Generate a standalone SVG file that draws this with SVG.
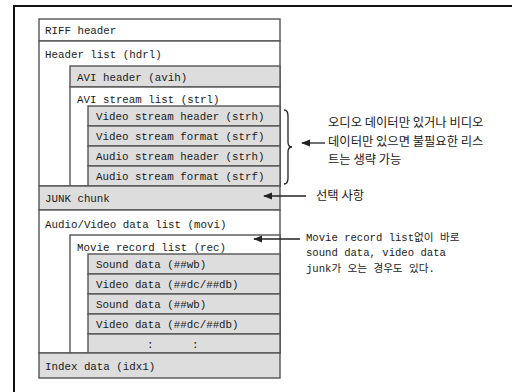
<svg xmlns="http://www.w3.org/2000/svg" width="512" height="392" viewBox="0 0 512 392">
<defs>
<style>
.w{fill:#ffffff;stroke:#555555;stroke-width:1.4}
.g{fill:#dddddd;stroke:#555555;stroke-width:1.4}
.t{font-family:"Liberation Mono","DejaVu Sans Mono",monospace;font-size:10.8px;fill:#1a1a1a}
.k{font-family:"Noto Sans CJK KR","Noto Sans",sans-serif;font-size:12.3px;fill:#1a1a1a}
.m{font-family:"Liberation Mono","Noto Sans CJK KR",monospace;font-size:10.6px;fill:#1a1a1a}
.c{stroke:#222222;stroke-width:1.3;fill:none}
</style>
<marker id="ah" viewBox="0 0 10 10" refX="1" refY="5" markerWidth="7" markerHeight="7" orient="auto">
<path d="M10,1 L0,5 L10,9 Z" fill="#222222"/>
</marker>
</defs>
<rect width="512" height="392" fill="#ffffff"/>
<rect x="14" y="6" width="520" height="400" fill="none" stroke="#111111" stroke-width="2"/>

<g id="riff"><rect class="w" x="39" y="19" width="241" height="22"/><text class="t" x="45" y="34">RIFF header</text></g>
<g id="hdrl"><rect class="w" x="39" y="41" width="241" height="145"/><text class="t" x="45" y="58">Header list (hdrl)</text></g>
<g id="avih"><rect class="g" x="70" y="66" width="210" height="21"/><text class="t" x="77" y="81">AVI header (avih)</text></g>
<g id="strl"><rect class="w" x="70" y="87" width="210" height="99"/><text class="t" x="77" y="103">AVI stream list (strl)</text></g>
<g id="vstrh"><rect class="g" x="88" y="106" width="192" height="20"/><text class="t" x="96" y="120">Video stream header (strh)</text></g>
<g id="vstrf"><rect class="g" x="88" y="126" width="192" height="20"/><text class="t" x="96" y="140">Video stream format (strf)</text></g>
<g id="astrh"><rect class="g" x="88" y="146" width="192" height="20"/><text class="t" x="96" y="160">Audio stream header (strh)</text></g>
<g id="astrf"><rect class="g" x="88" y="166" width="192" height="20"/><text class="t" x="96" y="180">Audio stream format (strf)</text></g>
<g id="junk"><rect class="g" x="39" y="186" width="241" height="24"/><text class="t" x="45" y="202">JUNK chunk</text></g>
<g id="movi"><rect class="w" x="39" y="210" width="241" height="143"/><text class="t" x="45" y="228">Audio/Video data list (movi)</text></g>
<g id="rec"><rect class="w" x="70" y="235" width="210" height="118"/><text class="t" x="77" y="251">Movie record list (rec)</text></g>
<g id="wb1"><rect class="g" x="88" y="254" width="192" height="20"/><text class="t" x="96" y="268">Sound data (##wb)</text></g>
<g id="dc1"><rect class="g" x="88" y="274" width="192" height="20"/><text class="t" x="96" y="288">Video data (##dc/##db)</text></g>
<g id="wb2"><rect class="g" x="88" y="294" width="192" height="20"/><text class="t" x="96" y="308">Sound data (##wb)</text></g>
<g id="dc2"><rect class="g" x="88" y="314" width="192" height="20"/><text class="t" x="96" y="328">Video data (##dc/##db)</text></g>
<g id="more"><rect class="g" x="88" y="334" width="192" height="19"/><text class="t" x="147" y="348">:</text><text class="t" x="192" y="348">:</text></g>
<g id="idx1"><rect class="g" x="39" y="353" width="241" height="25"/><text class="t" x="45" y="370">Index data (idx1)</text></g>

<g id="connectors">
<path class="c" d="M284,110 Q288,110 288,116 L288,142 Q288,147 292,147 Q288,147 288,152 L288,178 Q288,184 284,184"/>
<line class="c" x1="302" y1="143" x2="325" y2="143" marker-start="url(#ah)"/>
<line class="c" x1="264" y1="196" x2="306" y2="196" marker-start="url(#ah)"/>
<line class="c" x1="254" y1="239" x2="300" y2="239" marker-start="url(#ah)"/>
</g>

<g id="notes">
<text class="k" x="328" y="127">오디오 데이터만 있거나 비디오</text>
<text class="k" x="328" y="146">데이터만 있으면 불필요한 리스</text>
<text class="k" x="328" y="164">트는 생략 가능</text>
<text class="k" x="316" y="200">선택 사항</text>
<text class="m" x="306" y="241">Movie record list없이 바로</text>
<text class="m" x="306" y="256">sound data, video data</text>
<text class="m" x="306" y="272">junk가 오는 경우도 있다.</text>
</g>
</svg>
